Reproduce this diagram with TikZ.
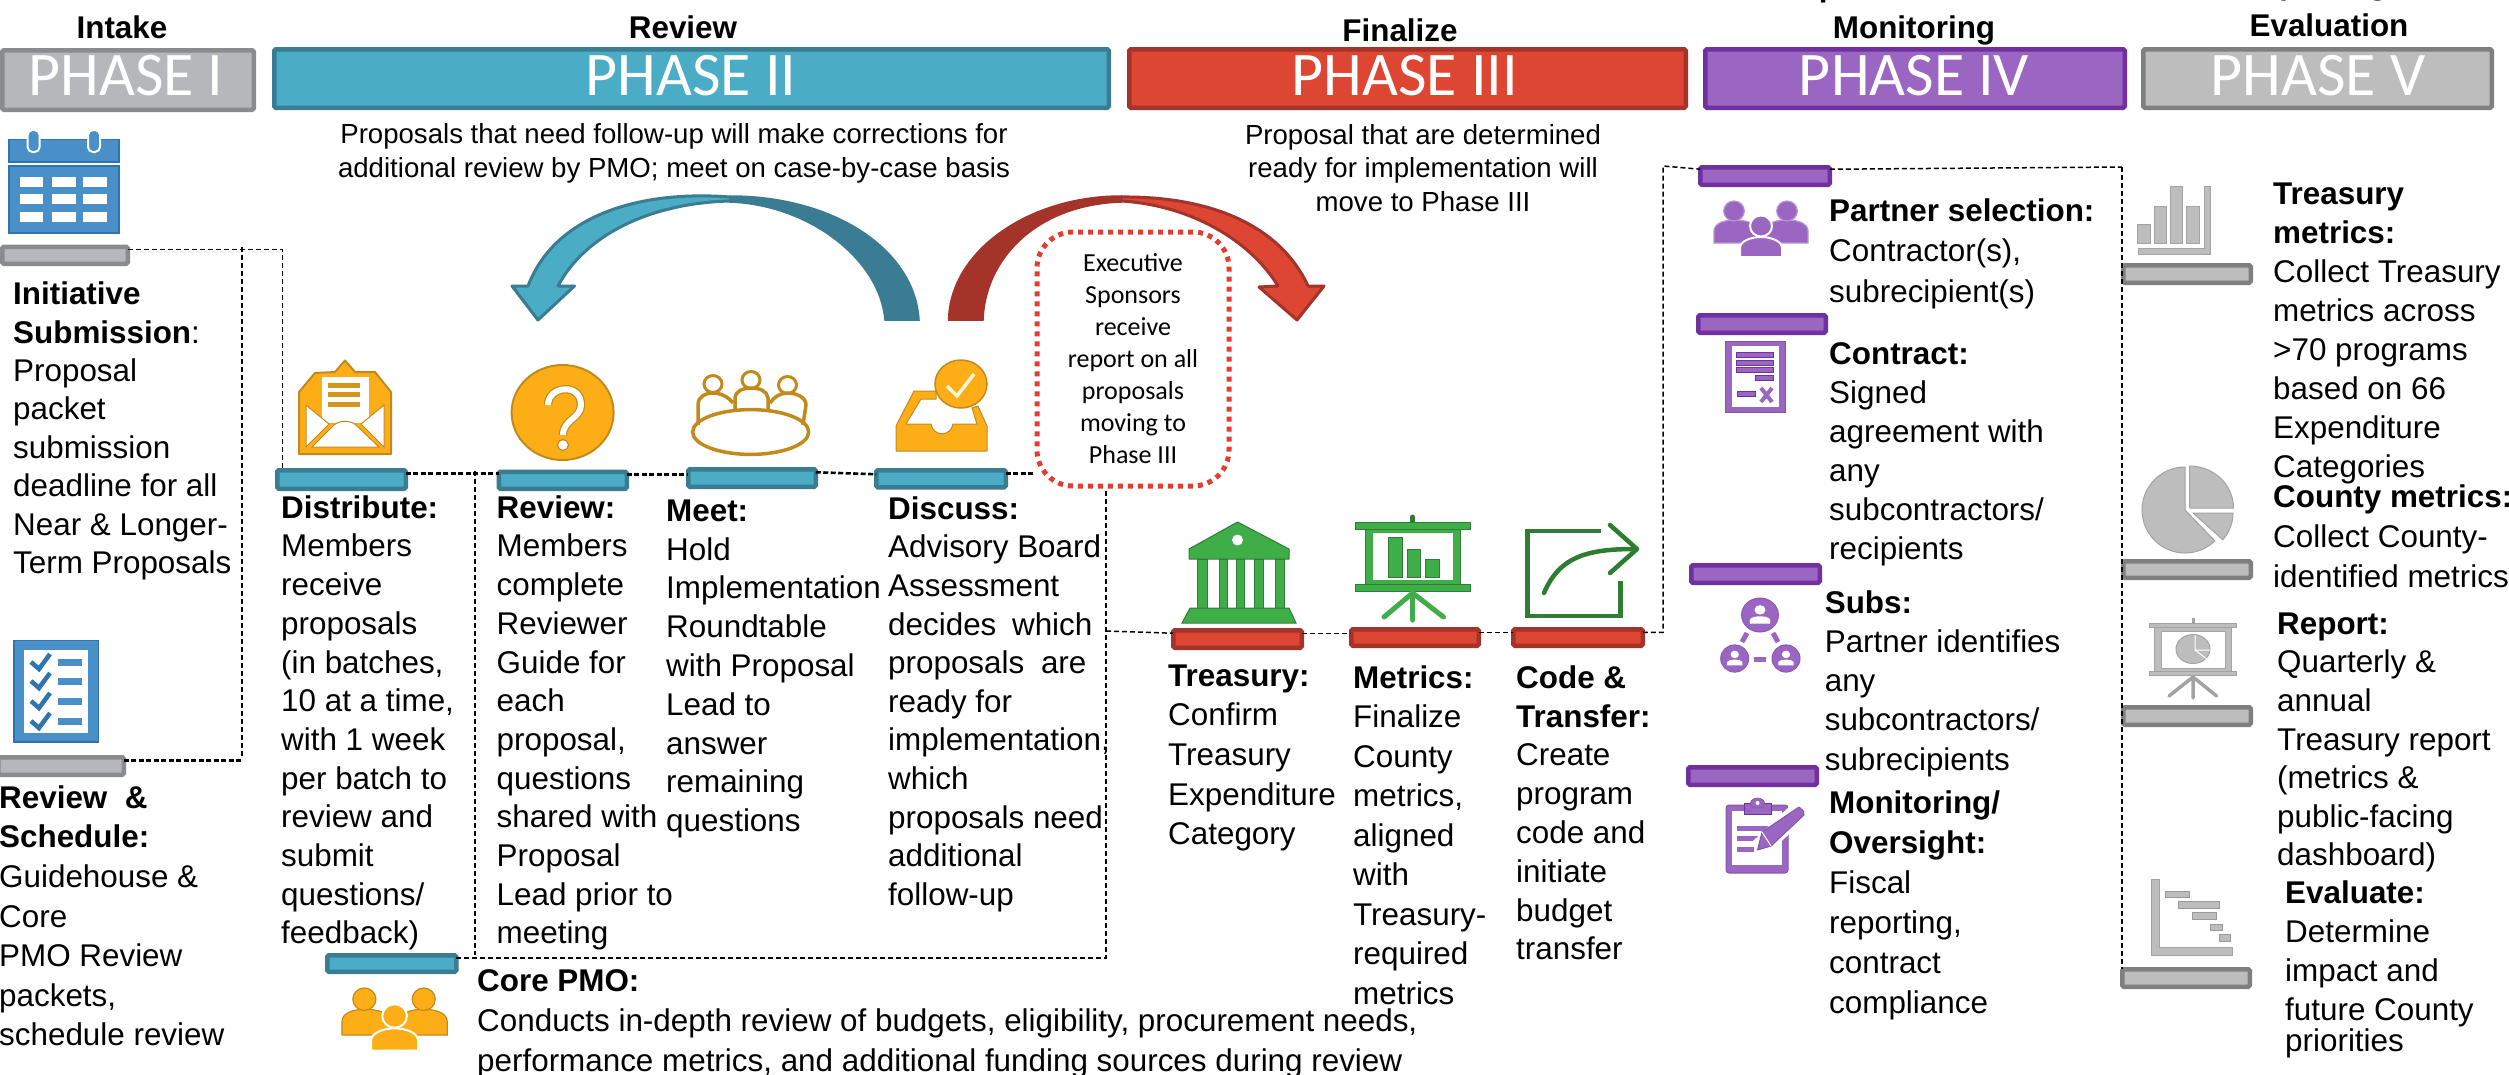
\documentclass[tikz,border=0pt]{standalone}
\usepackage{fontspec}
\setmainfont{Liberation Sans}
\newfontfamily\carl{Carlito}
\definecolor{gaF}{HTML}{B6B7BB}\definecolor{gaD}{HTML}{8A8B8F}
\definecolor{blF}{HTML}{4BACC6}\definecolor{blD}{HTML}{3A7C91}
\definecolor{reF}{HTML}{DD4633}\definecolor{reD}{HTML}{A4332A}
\definecolor{puF}{HTML}{9B66C2}\definecolor{puD}{HTML}{7030A0}
\definecolor{gvF}{HTML}{BDBDBD}\definecolor{gvD}{HTML}{7F7F7F}\definecolor{gvL}{HTML}{A3A3A3}
\definecolor{caF}{HTML}{4A90C8}\definecolor{caD}{HTML}{2E75B0}
\definecolor{orF}{HTML}{FDAE17}\definecolor{orD}{HTML}{C28A1C}
\definecolor{grF}{HTML}{3FAE49}\definecolor{grD}{HTML}{2E7D32}
\definecolor{dotR}{HTML}{E23D30}
\tikzset{
  chip/.style={line width=4.5pt,rounded corners=1.5pt,inner sep=0pt,outer sep=0pt},
  c1/.style={chip,draw=gaD,fill=gaF},
  c2/.style={chip,draw=blD,fill=blF},
  c3/.style={chip,draw=reD,fill=reF},
  c4/.style={chip,draw=puD,fill=puF},
  c5/.style={chip,draw=gvD,fill=gvF},
  ptext/.style={text=white,font=\carl\fontsize{62}{62}\selectfont,text depth=8pt},
  hdr/.style={anchor=base,inner sep=0pt,font=\fontsize{31.4}{31.4}\selectfont\bfseries},
  conn/.style={draw=black,line width=1.5pt,dash pattern=on 5pt off 3pt},
  connb/.style={draw=black,line width=2.6pt,dash pattern=on 5pt off 2.5pt},
}
\newcommand{\boxn}[7]{\pgfmathsetmacro\wv{#4-#2-4.5}\pgfmathsetmacro\hv{#5-#3-4.5}%
  \node[#6,minimum width=\wv pt,minimum height=\hv pt] (#1) at ({(#2+#4)/2},{(#3+#5)/2}) {#7};}
\newcommand{\tb}[5]{\node[anchor=north west,inner sep=0pt,align=left,font={\fontsize{31.4}{#4}\selectfont}] (#1) at ({#2},{#3-0.7*#4}) {\strut #5};}
\newcommand{\tc}[5]{\node[anchor=north,inner sep=0pt,align=center,font={\fontsize{27.6}{#4}\selectfont}] (#1) at ({#2},{#3-0.7*#4}) {\strut #5};}
% people icon: centre x, centre y, scale, fill, border
\newcommand{\ppl}[5]{\begin{scope}[shift={(#1,#2)},scale=#3,fill=#4,draw=#5,line width=1.2pt]
  \filldraw (-47,17)--(-47,5) .. controls (-47,-3) and (-36,-6) .. (-27,-6) .. controls (-15,-6) and (-4,-3) .. (-4,5)--(-4,17)--cycle;
  \filldraw (47,17)--(47,5) .. controls (47,-3) and (36,-6) .. (26,-6) .. controls (15,-6) and (4,-3) .. (4,5)--(4,17)--cycle;
  \filldraw (-27,-15) ellipse [x radius=10.3,y radius=10];
  \filldraw (26,-15) ellipse [x radius=10.3,y radius=10];
  \filldraw[draw=white,line width=2pt] (-21,31)--(-21,22) .. controls (-21,15) and (-10,11) .. (0,11) .. controls (10,11) and (21,15) .. (21,22)--(21,31)--cycle;
  \filldraw[draw=white,line width=2pt] (0,0) ellipse [x radius=11,y radius=10.5];
\end{scope}}
% person in circle
\newcommand{\pcirc}[4]{\begin{scope}[shift={(#1,#2)}]
  \filldraw[fill=puF,draw=puD!80,line width=1pt] (0,0) ellipse [x radius=#3,y radius=#4];
  \fill[white] (0,{-0.3*#4}) ellipse [x radius={0.3*#3},y radius={0.28*#4}];
  \fill[white] ({-0.55*#3},{0.5*#4}) -- ({-0.55*#3},{0.25*#4}) .. controls ({-0.4*#3},{0.02*#4}) and ({0.4*#3},{0.02*#4}) .. ({0.55*#3},{0.25*#4}) -- ({0.55*#3},{0.5*#4}) -- cycle;
\end{scope}}
\begin{document}
\begin{tikzpicture}[x=1pt,y=-1pt]
\useasboundingbox (0,0) rectangle (2509,1074);
\clip (0,0) rectangle (2509,1074);
\fill[white] (0,0) rectangle (2509,1074);
% headers
\node[hdr] (hA) at (122,38.5) {Intake};
\node[hdr] (hB) at (683,38) {Review};
\node[hdr] (hC) at (1400,41) {Finalize};
\node[hdr] (hD0) at (1914,-3.5) {Implementation \&};
\node[hdr] (hD) at (1914,38) {Monitoring};
\node[hdr] (hE0) at (2329,-5.5) {Reporting \&};
\node[hdr] (hE) at (2329,36) {Evaluation};
% phase bars
\boxn{ph1}{0}{48}{256}{112}{c1}{}
\node[ptext] (ph1t) at (126,79) {PHASE I};
\boxn{ph2}{272}{47}{1111}{110}{c2}{}
\node[ptext] (ph2t) at (691,79) {PHASE II};
\boxn{ph3}{1127}{47}{1688}{110}{c3}{}
\node[ptext] (ph3t) at (1405,79) {PHASE III};
\boxn{ph4}{1703}{47}{2127}{110}{c4}{}
\node[ptext] (ph4t) at (1914,79) {PHASE IV};
\boxn{ph5}{2141}{47}{2494}{110}{c5}{}
\node[ptext] (ph5t) at (2318,79) {PHASE V};
% notes
\tc{noteA}{674}{143}{34}{Proposals that need follow-up will make corrections for\\additional review by PMO; meet on case-by-case basis}
\tc{noteB}{1423}{144}{33.7}{Proposal that are determined\\ready for implementation will\\move to Phase III}
% chips
\boxn{bI1}{0}{244.5}{130}{266}{c1}{}
\boxn{bI2}{-4}{755}{126}{777}{c1}{}
\boxn{bDist}{275}{468}{408}{491}{c2}{}
\boxn{bRev}{496.5}{469.5}{629}{491}{c2}{}
\boxn{bMeet}{686}{467}{818}{489}{c2}{}
\boxn{bDisc}{874}{468}{1008}{489.5}{c2}{}
\boxn{bCore}{325}{953}{458.5}{974}{c2}{}
\boxn{bTre}{1171}{628}{1304}{650}{c3}{}
\boxn{bMet}{1349}{627}{1481}{648}{c3}{}
\boxn{bCod}{1511}{627}{1645}{648}{c3}{}
\boxn{bP1}{1698}{165}{1832}{187}{c4}{}
\boxn{bP2}{1696}{313}{1828}{335}{c4}{}
\boxn{bP3}{1689}{563}{1822}{585}{c4}{}
\boxn{bP4}{1686}{765}{1819}{787}{c4}{}
\boxn{bV1}{2121}{263}{2253}{285}{c5}{}
\boxn{bV2}{2121}{559}{2253}{580}{c5}{}
\boxn{bV3}{2121}{705}{2253}{727}{c5}{}
\boxn{bV4}{2120}{967}{2252}{989}{c5}{}
% exec box
\node[draw=dotR,line width=5pt,dash pattern=on 5pt off 5pt,rounded corners=36pt,minimum width=192pt,minimum height=254pt,inner sep=0pt,align=center,font={\carl\fontsize{26}{32}\selectfont}] (exec) at (1133,359) {Executive\\Sponsors\\receive\\report on all\\proposals\\moving to\\Phase III};
% connectors
\coordinate (jA) at (242,247);
\coordinate (jB) at (475,471);
\coordinate (jC) at (1106,631);
\coordinate (jD) at (2122,167);
\coordinate (jE) at (1663,166);
\draw[conn] ([yshift=-2.5pt]bI1.north east) -| ([xshift=5pt]bDist.north west);
\draw[conn] (jA) -- (jA |- bI2.north);
\draw[connb] ([yshift=-3pt]bI2.north east) -- ([yshift=-3pt]bI2.north east -| jA);
\draw[connb] ([yshift=-3pt]bDist.north east) -- ([yshift=-3pt]bDist.north east -| bRev.west);
\draw[connb] ([yshift=-3pt]bRev.north east) -- ([yshift=-3pt]bRev.north east -| bMeet.west);
\draw[connb] ([yshift=-3pt]bMeet.north east) -- ([yshift=-5pt]bMeet.north east -| bDisc.west);
\draw[connb] ([yshift=-3pt]bDisc.north east) -- ([yshift=-3pt]bDisc.north east -| exec.west);
\draw[conn] (jB) -- (jB |- bCore.north);
\draw[conn] ([yshift=-2.5pt]bCore.north east) -| ([xshift=-27pt]exec.south);
\draw[conn] (jC) -- ([yshift=-3pt]bTre.north west);
\draw[conn] ([yshift=-3pt]bTre.north east) -- ([yshift=-3pt]bTre.north east -| bMet.west);
\draw[conn] ([yshift=-3pt]bMet.north east) -- ([yshift=-3pt]bMet.north east -| bCod.west);
\draw[conn] ([yshift=-3pt]bCod.north east) -| (jE) -- ([yshift=-2pt]bP1.north west);
\draw[conn] ([yshift=-2pt]bP1.north east) -- (jD);
\draw[conn] (jD) -- (jD |- bV4.north);
% body text
\tb{tInit}{13}{304.5}{38.4}{\textbf{Initiative}\\\textbf{Submission}:\\Proposal\\packet\\submission\\deadline for all\\Near \& Longer-\\Term Proposals}
\tb{tRS}{-1}{808}{39.6}{\textbf{Review\ \ \&}\\\textbf{Schedule:}\\Guidehouse \&\\Core\\PMO Review\\packets,\\schedule review}
\tb{tDist}{281}{518}{38.7}{\textbf{Distribute:}\\Members\\receive\\proposals\\(in batches,\\10 at a time,\\with 1 week\\per batch to\\review and\\submit\\questions/\\feedback)}
\tb{tRev}{496.5}{518}{38.7}{\textbf{Review:}\\Members\\complete\\Reviewer\\Guide for\\each\\proposal,\\questions\\shared with\\Proposal\\Lead prior to\\meeting}
\tb{tMeet}{666}{521}{38.8}{\textbf{Meet:}\\Hold\\Implementation\\Roundtable\\with Proposal\\Lead to\\answer\\remaining\\questions}
\tb{tDisc}{888}{519}{38.6}{\textbf{Discuss:}\\Advisory Board\\Assessment\\decides\hspace{7pt} which\\proposals\hspace{8pt} are\\ready for\\implementation,\\which\\proposals need\\additional\\follow-up}
\tb{tTre}{1168}{686}{39.6}{\textbf{Treasury:}\\Confirm\\Treasury\\Expenditure\\Category}
\tb{tMet}{1353}{688}{39.5}{\textbf{Metrics:}\\Finalize\\County\\metrics,\\aligned\\with\\Treasury-\\required\\metrics}
\tb{tCod}{1516}{688}{38.8}{\textbf{Code \&}\\\textbf{Transfer:}\\Create\\program\\code and\\initiate\\budget\\transfer}
\tb{tCore}{477}{991}{40}{\textbf{Core PMO:}\\Conducts in-depth review of budgets, eligibility, procurement needs,\\performance metrics, and additional funding sources during review}
\tb{tP1}{1829}{221}{40.5}{\textbf{Partner selection:}\\Contractor(s),\\subrecipient(s)}
\tb{tP2}{1829}{364}{39.1}{\textbf{Contract:}\\Signed\\agreement with\\any\\subcontractors/\\recipients}
\tb{tP3}{1824.6}{613}{39.2}{\textbf{Subs:}\\Partner identifies\\any\\subcontractors/\\subrecipients}
\tb{tP4}{1829}{813}{40}{\textbf{Monitoring/}\\\textbf{Oversight:}\\Fiscal\\reporting,\\contract\\compliance}
\tb{tV1}{2273}{204.5}{39}{\textbf{Treasury}\\\textbf{metrics:}\\Collect Treasury\\metrics across\\>70 programs\\based on 66\\Expenditure\\Categories}
\tb{tV2}{2273}{507}{40}{\textbf{County metrics:}\\Collect County-\\identified metrics}
\tb{tV3}{2277}{634}{38.6}{\textbf{Report:}\\Quarterly \&\\annual\\Treasury report\\(metrics \&\\public-facing\\dashboard)}
\tb{tV4}{2285}{903.5}{38.9}{\textbf{Evaluate:}\\Determine\\impact and\\future County\\[-8pt]priorities}
% arrows
\filldraw[fill=blD,draw=blD,line width=1.5pt] (919,320) .. controls (915,250) and (835,196) .. (730,196) -- (730,202) .. controls (810,205) and (880,260) .. (885,320) -- cycle;
\filldraw[fill=blF,draw=blD,line width=3pt,line join=round] (730,197) .. controls (640,190) and (555,215) .. (528,286) -- (512,286) -- (538,320) -- (574.5,286) -- (558,286) .. controls (585,235) and (650,203) .. (730,201) -- cycle;
\filldraw[fill=reD,draw=reD,line width=1.5pt] (948.6,320) .. controls (950,250) and (1030,196) .. (1121,196) -- (1121,202) .. controls (1035,205) and (985,260) .. (983,320) -- cycle;
\filldraw[fill=reF,draw=reD,line width=3pt,line join=round] (1121,197) .. controls (1210,196) and (1280,225) .. (1308,286) -- (1324,286) -- (1297,320) -- (1259,287) -- (1278,286) .. controls (1250,240) and (1190,205) .. (1121,201) -- cycle;
% calendar
\begin{scope}
\filldraw[fill=caF,draw=caD,line width=1.5pt] (9,139.5) rectangle (119,162);
\filldraw[fill=caF,draw=caD,line width=1.5pt] (9,166) rectangle (119,233);
\foreach \cx in {33.6,94}{\filldraw[fill=caF,draw=white,line width=2pt,rounded corners=5pt] (\cx-6,130) rectangle (\cx+6,152);}
\foreach \cl/\cr in {20/43,51.5/76,83/107}{\foreach \rt/\rb in {177/187,194/204,212/222}{\fill[white] (\cl,\rt) rectangle (\cr,\rb);}}
\end{scope}
% checklist
\filldraw[fill=caF,draw=caD,line width=1.5pt] (14,640.5) rectangle (98.6,742);
\fill[white] (24,650) rectangle (88,732.5);
\foreach \ry in {662,681,701,721}{
  \draw[caD,line width=4.5pt] (31,\ry) -- (39,\ry+7) -- (50,\ry-8);
  \fill[caF] (58,\ry-3.5) rectangle (82,\ry+3.5);
}
% envelope
\filldraw[fill=orF,draw=orD,line width=2pt,line join=round] (299,454) -- (299,392) -- (315,373) -- (335,372) -- (345,360.5) -- (355,372) -- (375,372) -- (391,392) -- (391,454) -- cycle;
\fill[white] (322,377) rectangle (368.5,423);
\foreach \ey in {385,394.5,404}{\fill[orD!70!orF] (328,\ey-2.5) rectangle (360,\ey+2.5);}
\filldraw[fill=white,draw=orD,line width=1pt] (306,405) -- (306,447) -- (329,424) -- cycle;
\filldraw[fill=white,draw=orD,line width=1pt] (384,405) -- (384,447) -- (361,424) -- cycle;
\filldraw[fill=white,draw=orD,line width=1pt] (312,447) -- (334,425) .. controls (340,420) and (350,420) .. (356,425) -- (379,447) -- cycle;
% question
\filldraw[fill=orF,draw=orD,line width=2pt] (562.6,412.5) ellipse [x radius=51,y radius=47.5];
\draw[draw=orD,double=white,double distance=6pt,line width=1.2pt] (548,405) .. controls (548,386) and (581,382) .. (581,405) .. controls (581,418) and (563,420) .. (563,435);
\filldraw[fill=white,draw=orD,line width=1.2pt] (563,445) circle (5.5);
% round table
\begin{scope}[draw=orD,line width=3.5pt]
\draw (750.7,432) ellipse [x radius=58,y radius=22.4];
\foreach \hx/\hy in {713/384,751/380,787.5/385}{\draw[line width=3pt] (\hx,\hy) ellipse [x radius=9,y radius=8.5];}
\draw (698,425) -- (698,405) .. controls (698,396) and (706,393) .. (713,393) .. controls (722,393) and (729,398) .. (733,403);
\draw (735,411) -- (735,398) .. controls (736,390) and (744,388) .. (751,388) .. controls (760,388) and (767,391) .. (768,398) -- (768,411);
\draw (803,425) -- (806,405) .. controls (806,397) and (796,393) .. (787.5,393) .. controls (780,393) and (774,397) .. (770,403);
\end{scope}
% inbox
\filldraw[fill=orF,draw=orD,line width=1pt,line join=round] (896,451) -- (896,426) -- (914,391) -- (936,391) -- (936,399) -- (921,399) -- (906,424) -- (931,424) .. controls (933,437) and (951,437) .. (953,424) -- (977,424) -- (972,408) -- (978,406) -- (987,426) -- (987,451) -- cycle;
\filldraw[fill=orF,draw=orD,line width=1.5pt] (961,384) ellipse [x radius=26,y radius=24];
\draw[white!85!orF,line width=3.5pt] (947,386) -- (957,396) -- (974,374);
% Core PMO people
\ppl{394.6}{1016}{1.12}{orF}{orD}
% treasury building
\begin{scope}
\filldraw[fill=grF,draw=grD,line width=1pt,line join=round] (1237.5,522) -- (1289,549) -- (1289,559) -- (1189,559) -- (1189,549) -- cycle;
\fill[white] (1237.5,540) circle (5.5);
\foreach \xa/\xb in {1197/1207,1219/1227,1236/1244,1254/1263,1275/1284}{\filldraw[fill=grF,draw=grD,line width=1pt] (\xa,559) rectangle (\xb,608);}
\filldraw[fill=grF,draw=grD,line width=1pt] (1190,608) -- (1289,608) -- (1296,623) -- (1182,623) -- cycle;
\end{scope}
% metrics board
\begin{scope}
\draw[grD,line width=5pt,line cap=round] (1412.6,517) -- (1412.6,525);
\filldraw[fill=grF,draw=grD,line width=1pt] (1355,522) rectangle (1470.6,529.5);
\filldraw[fill=grF,draw=grD,line width=1pt] (1365,529.5) rectangle (1460,584);
\fill[white] (1373,533) rectangle (1453,580);
\filldraw[fill=grF,draw=grD,line width=1pt] (1355,584) rectangle (1470.6,591);
\foreach \ba/\bb/\bt in {1388/1402/537,1407/1420/549,1425.6/1439/559}{\filldraw[fill=grF,draw=grD,line width=1pt] (\ba,\bt) rectangle (\bb,577);}
\draw[grF,line width=5pt,line cap=round] (1412.6,593) -- (1412.6,620);
\draw[grF,line width=5pt,line cap=round] (1412.6,593) -- (1384,617);
\draw[grF,line width=5pt,line cap=round] (1412.6,593) -- (1443.5,617);
\end{scope}
% export
\draw[grD,line width=4.5pt] (1600.6,531) -- (1527.5,531) -- (1527.5,616) -- (1620.7,616) -- (1620.7,581);
\draw[grD,line width=4.5pt,line cap=round] (1544,593) .. controls (1560,555) and (1590,549) .. (1636,549);
\draw[grD,line width=4.5pt,line cap=round,line join=round] (1610,525) -- (1637,549) -- (1610,573);
% partner icon
\ppl{1761}{226}{1}{puF}{puF!70!white}
% contract icon
\filldraw[fill=puF,draw=puF!85!black,line width=1pt] (1725,341) rectangle (1785.6,412.5);
\fill[white] (1731.5,346) rectangle (1779,407);
\foreach \ly in {355,362.6,370}{\filldraw[fill=puF,draw=puD,line width=.6pt] (1736,\ly-2.5) rectangle (1773.7,\ly+2.5);}
\filldraw[fill=puF,draw=puD,line width=.6pt] (1755,375.5) rectangle (1773.7,380.5);
\filldraw[fill=puF,draw=puD,line width=.6pt] (1737.4,391.5) rectangle (1755,396.5);
\draw[puF,line width=4pt] (1761,388) -- (1772,402) (1772,388) -- (1761,402);
% subs icon
\pcirc{1760}{615}{18.4}{17}
\pcirc{1734.7}{658.5}{14}{13.6}
\pcirc{1786}{658.5}{14}{13.6}
\draw[puF,line width=5pt] (1747,633) -- (1742,642);
\draw[puF,line width=5pt] (1773,633) -- (1778,642);
\draw[puF,line width=5pt] (1754,659) -- (1766,659);
% clipboard
\filldraw[fill=puF,draw=puF!85!black,line width=1pt,rounded corners=3pt] (1726,805) rectangle (1788,873);
\fill[white] (1732,811) rectangle (1782,865);
\filldraw[fill=puF,draw=puD,line width=.6pt] (1744,803) rectangle (1771,814);
\filldraw[fill=puF,draw=puF!85!black,line width=.6pt] (1757.5,803) ellipse [x radius=7,y radius=5];
\fill[white] (1757.5,803) circle (2);
\foreach \ly/\lx in {828/1772,838/1762,849/1754}{\fill[puF] (1737,\ly-2.5) rectangle (\lx,\ly+2.5);}
\fill[white] (1756,852) -- (1752,842) -- (1790,806) -- (1806,818) -- (1766,856) -- cycle;
\filldraw[fill=puF,draw=puF!85!black,line width=1pt,line join=round] (1757.5,850) -- (1762,832) -- (1799,807) -- (1803.5,811) -- (1804,815) -- (1771,846) -- cycle;
\draw[white,line width=1pt] (1762,832) -- (1771,846);
% gray bar chart
\foreach \ga/\gb/\gt in {2137.5/2150/224,2154/2166/206.6,2170/2182.5/186,2186/2199/206.6}{\filldraw[fill=gvF,draw=gvL,line width=1pt] (\ga,\gt) rectangle (\gb,243);}
\filldraw[fill=gvF,draw=gvL,line width=1pt] (2204.7,186) -- (2210.6,186) -- (2210.6,254) -- (2138.6,254) -- (2138.6,248) -- (2204.7,248) -- cycle;
% pie
\filldraw[fill=gvF,draw=gvL,line width=1pt,line join=round] (2185,510) -- (2185,467) arc[start angle=-90,end angle=-314,x radius=43,y radius=43] -- cycle;
\filldraw[fill=gvF,draw=gvL,line width=1pt,line join=round] (2189.5,508) -- (2189.5,466) arc[start angle=-90,end angle=0,x radius=44,y radius=42] -- cycle;
\filldraw[fill=gvF,draw=gvL,line width=1pt,line join=round] (2193,513) -- (2233,513) arc[start angle=0,end angle=42,x radius=40,y radius=40] -- cycle;
% report easel
\draw[gvL,line width=3pt] (2193,618) -- (2193,625);
\filldraw[fill=gvF,draw=gvL,line width=1pt] (2149,623) rectangle (2236.6,627);
\filldraw[fill=gvF,draw=gvL,line width=1pt] (2154,627) rectangle (2231,671);
\filldraw[fill=white,draw=gvL,line width=1pt] (2161,631) rectangle (2225,668);
\filldraw[fill=gvF,draw=gvL,line width=1pt] (2149,671) rectangle (2236.6,675.6);
\filldraw[fill=gvF,draw=gvL,line width=1pt] (2193,649) ellipse [x radius=17,y radius=14.5];
\draw[white,line width=1pt] (2195,635) -- (2195,650) -- (2210,650) (2195,650) -- (2208,660);
\draw[gvL,line width=3.5pt,line cap=round] (2193,677) -- (2193,698) (2193,677) -- (2169,696) (2193,677) -- (2216.6,696);
% gantt
\filldraw[fill=gvF,draw=gvL,line width=1pt] (2151.6,879.6) -- (2159,879.6) -- (2159,947.7) -- (2232,947.7) -- (2232,955) -- (2151.6,955) -- cycle;
\foreach \ga/\gb/\gt in {2165/2189.5/891,2178.7/2219/901.7,2192/2216/912.6,2210/2222/924,2219/2230.7/934.4}{\filldraw[fill=gvF,draw=gvD!80,line width=1pt] (\ga,\gt) rectangle (\gb,\gt+6.8);}
\end{tikzpicture}
\end{document}
